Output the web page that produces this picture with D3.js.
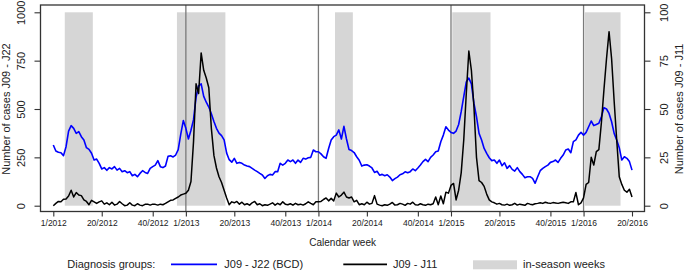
<!DOCTYPE html>
<html>
<head>
<meta charset="utf-8">
<script src="https://cdn.jsdelivr.net/npm/d3@7"></script>
<style>
  body { margin: 0; background: #fff; }
  svg { display: block; font-family: "Liberation Sans", Arial, sans-serif; }
</style>
</head>
<body>
<svg id="chart" width="685" height="272"></svg>
<script>
// Weekly cases, 1/2012 .. 20/2016 (52 weeks per year)
const casesBCD = [
  314, 283, 276, 274, 259, 305, 386, 414, 400, 374,
  383, 357, 340, 300, 291, 271, 236, 241, 219, 190,
  197, 183, 197, 190, 202, 184, 193, 176, 181, 171,
  176, 155, 162, 150, 167, 181, 172, 167, 193, 202,
  210, 233, 202, 197, 205, 255, 258, 252, 262, 290,
  370, 440, 400, 345, 390, 445, 560, 620, 630, 565,
  535, 510, 475, 435, 400, 375, 362, 340, 272, 238,
  225, 245, 219, 224, 219, 210, 205, 202, 193, 184,
  176, 167, 159, 141, 155, 162, 159, 176, 176, 219,
  210, 219, 236, 228, 236, 219, 236, 224, 245, 241,
  248, 250, 288, 279, 279, 268, 253, 245, 296, 340,
  357, 365, 392, 345, 410, 345, 290, 285, 275, 253,
  235, 205, 210, 212, 205, 195, 172, 178, 158, 162,
  155, 160, 148, 130, 140, 148, 160, 165, 175, 170,
  176, 190, 181, 195, 210, 228, 240, 228, 250, 262,
  279, 283, 331, 365, 408, 391, 379, 374, 386, 420,
  486, 564, 640, 660, 630, 529, 460, 374, 340, 296,
  271, 248, 233, 236, 219, 236, 207, 222, 193, 207,
  188, 179, 197, 176, 162, 145, 150, 150, 141,
  116, 150, 181, 193, 202, 210, 224, 228, 236, 224,
  245, 262, 288, 293, 274, 331, 340, 365, 379, 365,
  379, 408, 438, 414, 420, 426, 460, 507, 500, 477,
  434, 374, 340, 300, 236, 253, 245, 228, 184
];
const casesJ11 = [
  0, 12, 22, 20, 33, 35, 50, 80, 45, 68,
  55, 52, 30, 22, 5, 28, 20, 12, 20, 25,
  8, 15, 5, 18, 3, 8, 22, 10, 0, 3,
  15, 3, 0, 10, 3, 0, 7, 8, 3, 8,
  7, 3, 8, 5, 12, 20, 28, 30, 38, 45,
  55, 60, 64, 80, 125, 330, 630, 580, 790, 700,
  660, 610, 400, 260, 195, 150, 120, 80, 40, 5,
  20, 15, 22, 8, 18, 5, 10, 3, 15, 22,
  5, 10, 0, 5, 2, 8, 15, 3, 12, 5,
  20, 8, 5, 10, 3, 12, 5, 8, 3, 10,
  20, 12, 5, 20, 20, 22, 32, 40, 25, 38,
  25, 65, 45, 55, 70, 45, 40, 45, 20, 28,
  5, 10, 5, 18, 8, 12, 52, 8, 3, 0,
  5, 2, 8, 17, 3, 5, 12, 8, 2, 12,
  8, 18, 5, 3, 10, 5, 2, 8, 5, 10,
  45, 5, 50, 10, 70, 65, 105, 115, 30, 80,
  170, 340, 580, 800, 700, 510, 250, 130, 120, 100,
  60, 30, 20, 15, 8, 12, 5, 3, 8, 2,
  5, 12, 3, 8, 5, 2, 12, 8, 5,
  10, 12, 15, 12, 18, 14, 12, 16, 14, 12,
  15, 18, 15, 12, 20, 20, 68, 5, 15, 40,
  110, 120, 250, 210, 280, 290, 430, 600, 760, 900,
  760, 540, 340, 150, 110, 80, 70, 85, 45
];
const tickLabels = ['1/2012', '20/2012', '40/2012', '1/2013', '20/2013', '40/2013', '1/2014',
  '20/2014', '40/2014', '1/2015', '20/2015', '40/2015', '1/2016', '20/2016'];
const yearStarts = ['1/2013', '1/2014', '1/2015', '1/2016'];
const seasonStart = ['6/2012', '50/2012', '8/2014', '2/2015', '2/2016'];
const seasonEnd = ['16/2012', '16/2013', '14/2014', '16/2015', '15/2016'];
const leftTicks = [0, 250, 500, 750, 1000];
const rightTicks = [0, 25, 50, 75, 100];

// "week/year" -> running week number
function weekIndex(label) {
  const [w, y] = label.split('/').map(Number);
  return (y - 2012) * 52 + w - 1;
}

const svg = d3.select('#chart');
const box = { left: 40.5, right: 644.5, top: 5, bottom: 211.5 };

const x = d3.scaleLinear().domain([0, casesBCD.length - 1]).range([53.3, 632]);
const yLeft = d3.scaleLinear().domain([0, 1000]).range([205.7, 12.3]);
const yRight = d3.scaleLinear().domain([0, 100]).range([205.7, 12.3]);

// in-season shading
svg.append('g')
  .selectAll('rect')
  .data(seasonStart.map((s, i) => [weekIndex(s), weekIndex(seasonEnd[i])]))
  .join('rect')
  .attr('x', (d) => x(d[0] - 0.5))
  .attr('width', (d) => x(d[1] + 0.5) - x(d[0] - 0.5))
  .attr('y', yLeft(1000))
  .attr('height', yLeft(0) - yLeft(1000))
  .attr('fill', '#d6d6d6');

// year separators
svg.append('g')
  .selectAll('line')
  .data(yearStarts)
  .join('line')
  .attr('x1', (d) => x(weekIndex(d)))
  .attr('x2', (d) => x(weekIndex(d)))
  .attr('y1', box.top)
  .attr('y2', box.bottom)
  .attr('stroke', '#7a7a7a')
  .attr('stroke-width', 1.3);

const line = d3.line().x((d, i) => x(i)).y((d) => yLeft(d));

svg.append('path')
  .datum(casesBCD)
  .attr('d', line)
  .attr('fill', 'none')
  .attr('stroke', '#0000ff')
  .attr('stroke-width', 1.6)
  .attr('stroke-linejoin', 'round');

svg.append('path')
  .datum(casesJ11)
  .attr('d', line)
  .attr('fill', 'none')
  .attr('stroke', '#000')
  .attr('stroke-width', 1.5)
  .attr('stroke-linejoin', 'round');

// frame
svg.append('rect')
  .attr('x', box.left)
  .attr('y', box.top)
  .attr('width', box.right - box.left)
  .attr('height', box.bottom - box.top)
  .attr('fill', 'none')
  .attr('stroke', '#333')
  .attr('stroke-width', 1.3);

// axes
const xAxis = d3.axisBottom(x)
  .tickValues(tickLabels.map(weekIndex))
  .tickFormat((d, i) => tickLabels[i])
  .tickSize(5);
const xAxisG = svg.append('g')
  .attr('transform', `translate(0,${box.bottom})`)
  .call(xAxis);
xAxisG.selectAll('text').attr('y', 8).attr('font-size', 8.5);

const leftAxisG = svg.append('g')
  .attr('transform', `translate(${box.left},0)`)
  .call(d3.axisLeft(yLeft).tickValues(leftTicks).tickFormat(d3.format('d')).tickSize(6));
leftAxisG.selectAll('text')
  .attr('transform', 'rotate(-90)')
  .attr('x', 0)
  .attr('y', -15.5)
  .attr('dy', 0)
  .attr('text-anchor', 'middle')
  .attr('font-size', 11);

const rightAxisG = svg.append('g')
  .attr('transform', `translate(${box.right},0)`)
  .call(d3.axisRight(yRight).tickValues(rightTicks).tickFormat(d3.format('d')).tickSize(6));
rightAxisG.selectAll('text')
  .attr('transform', 'rotate(-90)')
  .attr('x', 0)
  .attr('y', 23.5)
  .attr('dy', 0)
  .attr('text-anchor', 'middle')
  .attr('font-size', 11);

[xAxisG, leftAxisG, rightAxisG].forEach((g) => {
  g.select('.domain').remove();
  g.selectAll('line').attr('stroke', '#333').attr('stroke-width', 1.1);
  g.selectAll('text').attr('fill', '#222').attr('font-family', null);
});

// axis titles
svg.append('text')
  .attr('transform', `translate(9.5,${yLeft(500)}) rotate(-90)`)
  .attr('text-anchor', 'middle')
  .attr('font-size', 11)
  .attr('fill', '#222')
  .text('Number of cases J09 - J22');
svg.append('text')
  .attr('transform', `translate(683,${yLeft(500)}) rotate(-90)`)
  .attr('text-anchor', 'middle')
  .attr('font-size', 11)
  .attr('fill', '#222')
  .text('Number of cases J09 - J11');
svg.append('text')
  .attr('x', (x.range()[0] + x.range()[1]) / 2)
  .attr('y', 245.5)
  .attr('text-anchor', 'middle')
  .attr('font-size', 10)
  .attr('fill', '#222')
  .text('Calendar week');

// legend
const legend = svg.append('g').attr('font-size', 11).attr('fill', '#222');
legend.append('text').attr('x', 67.3).attr('y', 268).text('Diagnosis groups:');
legend.append('line').attr('x1', 171).attr('x2', 217).attr('y1', 264.3).attr('y2', 264.3)
  .attr('stroke', '#0000ff').attr('stroke-width', 1.8);
legend.append('text').attr('x', 224.3).attr('y', 268).text('J09 - J22 (BCD)');
legend.append('line').attr('x1', 343.3).attr('x2', 387).attr('y1', 264.3).attr('y2', 264.3)
  .attr('stroke', '#000').attr('stroke-width', 1.8);
legend.append('text').attr('x', 393).attr('y', 268).text('J09 - J11');
legend.append('rect').attr('x', 473).attr('y', 260.3).attr('width', 44).attr('height', 9)
  .attr('fill', '#d6d6d6');
legend.append('text').attr('x', 523).attr('y', 268).text('in-season weeks');
</script>
</body>
</html>
